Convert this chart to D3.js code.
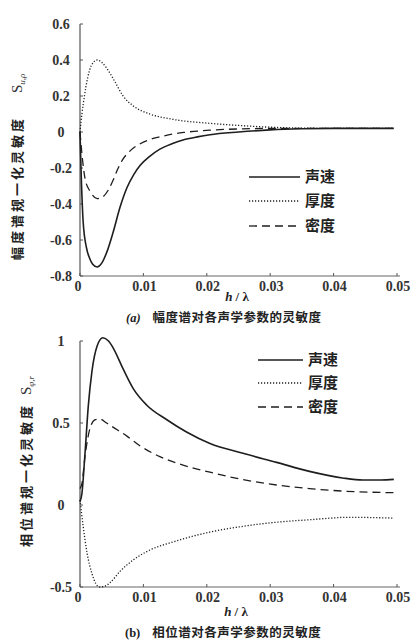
<!DOCTYPE html>
<html><head><meta charset="utf-8">
<script src="https://cdn.jsdelivr.net/npm/d3@7"></script>
<style>
html,body{margin:0;padding:0;background:#fff;}
svg{display:block;}
</style></head>
<body>
<svg id="c" width="419" height="643"></svg>
<script>
// ---------- data ----------
const seriesNames = ["声速", "厚度", "密度"];
const xTicks = [0, 0.01, 0.02, 0.03, 0.04, 0.05];
const xTickLabels = ["0", "0.01", "0.02", "0.03", "0.04", "0.05"];
const yTicksA = [-0.8, -0.6, -0.4, -0.2, 0, 0.2, 0.4, 0.6];
const yTickLabelsA = ["-0.8", "-0.6", "-0.4", "-0.2", "0", "0.2", "0.4", "0.6"];
const yTicksB = [-0.5, 0, 0.5, 1];
const yTickLabelsB = ["-0.5", "0", "0.5", "1"];

// (a) amplitude spectrum sensitivity
const ampSpeed = [[0,0],[0.0002,-0.25],[0.0005,-0.5],[0.001,-0.64],[0.0015,-0.70],[0.002,-0.735],[0.0027,-0.75],[0.0034,-0.73],[0.0042,-0.67],[0.0052,-0.56],[0.0063,-0.42],[0.0074,-0.31],[0.0085,-0.235],[0.0095,-0.185],[0.011,-0.135],[0.0126,-0.095],[0.0145,-0.065],[0.0165,-0.042],[0.0185,-0.027],[0.0205,-0.015],[0.025,0.0],[0.03,0.012],[0.035,0.018],[0.04,0.02],[0.045,0.02],[0.0495,0.02]];
const ampThick = [[0,0],[0.0003,0.1],[0.0007,0.2],[0.0012,0.3],[0.0018,0.37],[0.0027,0.40],[0.0035,0.385],[0.0042,0.355],[0.0055,0.28],[0.0068,0.2],[0.0084,0.145],[0.011,0.1],[0.0147,0.07],[0.0205,0.048],[0.0257,0.035],[0.031,0.025],[0.036,0.021],[0.042,0.02],[0.0495,0.02]];
const ampDens = [[0,0],[0.0003,-0.12],[0.0008,-0.26],[0.0016,-0.33],[0.0027,-0.37],[0.0036,-0.36],[0.0045,-0.32],[0.0052,-0.27],[0.0059,-0.21],[0.0067,-0.155],[0.0079,-0.105],[0.0095,-0.065],[0.011,-0.042],[0.0126,-0.027],[0.0145,-0.012],[0.0165,-0.002],[0.0205,0.01],[0.025,0.017],[0.03,0.02],[0.0495,0.02]];

// (b) phase spectrum sensitivity
const phaSpeed = [[0,0.02],[0.0003,0.07],[0.0008,0.32],[0.0013,0.6],[0.0019,0.82],[0.0027,0.97],[0.0036,1.02],[0.0045,1.0],[0.0052,0.96],[0.0068,0.83],[0.0084,0.71],[0.0105,0.61],[0.0137,0.52],[0.0168,0.445],[0.0205,0.375],[0.0257,0.315],[0.031,0.26],[0.0362,0.205],[0.0414,0.165],[0.0446,0.152],[0.0475,0.152],[0.0495,0.156]];
const phaThick = [[0,0.03],[0.0005,-0.13],[0.0011,-0.29],[0.0019,-0.42],[0.0025,-0.48],[0.0031,-0.5],[0.0039,-0.495],[0.0047,-0.475],[0.0063,-0.405],[0.0084,-0.335],[0.011,-0.275],[0.0147,-0.225],[0.0205,-0.165],[0.0257,-0.13],[0.031,-0.105],[0.0362,-0.09],[0.0425,-0.075],[0.0495,-0.08]];
const phaDens = [[0,0.1],[0.0003,0.13],[0.0008,0.3],[0.0016,0.47],[0.0024,0.52],[0.0031,0.525],[0.0042,0.5],[0.0052,0.475],[0.0074,0.42],[0.0095,0.36],[0.0126,0.295],[0.0157,0.25],[0.0205,0.2],[0.0257,0.155],[0.031,0.122],[0.0362,0.1],[0.0414,0.085],[0.0495,0.075]];

const dashStyles = [null, "1.2,1.8", "8,5"];
const INK = "#1e1e1e";

const svg = d3.select("#c");

function panel(cfg) {
  const x = d3.scaleLinear().domain([0, 0.05]).range([80, 397]);
  const y = d3.scaleLinear().domain(cfg.yDomain).range(cfg.yRange);
  const g = svg.append("g");

  // axes lines
  g.append("line").attr("x1", x(0)).attr("x2", x(0)).attr("y1", y(cfg.yDomain[0])).attr("y2", y(cfg.yDomain[1]))
    .attr("stroke", "#555").attr("stroke-width", 1.2);
  g.append("line").attr("x1", x(0)).attr("x2", 400).attr("y1", y(cfg.yDomain[0])).attr("y2", y(cfg.yDomain[0]))
    .attr("stroke", "#666").attr("stroke-width", 1.2);

  // x ticks
  xTicks.forEach((t, i) => {
    g.append("line").attr("x1", x(t)).attr("x2", x(t)).attr("y1", y(cfg.yDomain[0])).attr("y2", y(cfg.yDomain[0]) - 3)
      .attr("stroke", "#555");
    g.append("text").attr("x", i === 0 ? x(t) - 2 : x(t) + 1).attr("y", y(cfg.yDomain[0]) + 15)
      .attr("text-anchor", "middle").attr("font-family", "Liberation Serif").attr("font-size", 14)
      .attr("font-weight", "bold").attr("fill", "#333").text(xTickLabels[i]);
  });
  // y ticks
  cfg.yTicks.forEach((t, i) => {
    g.append("line").attr("x1", x(0)).attr("x2", x(0) + 3).attr("y1", y(t)).attr("y2", y(t)).attr("stroke", "#555");
    g.append("text").attr("x", 61).attr("y", y(t) + 5)
      .attr("text-anchor", "middle").attr("font-family", "Liberation Serif").attr("font-size", 14)
      .attr("font-weight", "bold").attr("fill", "#333").text(cfg.yTickLabels[i]);
  });

  // curves
  const line = d3.line().x(d => x(d[0])).y(d => y(d[1])).curve(d3.curveMonotoneX);
  cfg.series.forEach((s, i) => {
    const p = g.append("path").datum(s).attr("d", line).attr("fill", "none")
      .attr("stroke", INK).attr("stroke-width", i === 0 ? 1.6 : 1.3);
    if (dashStyles[i]) p.attr("stroke-dasharray", dashStyles[i]);
  });

  // legend
  seriesNames.forEach((n, i) => {
    const ly = cfg.legendY[i];
    const l = g.append("line").attr("x1", cfg.legendX[0]).attr("x2", cfg.legendX[1]).attr("y1", ly).attr("y2", ly)
      .attr("stroke", INK).attr("stroke-width", i === 0 ? 1.5 : 1.3);
    if (dashStyles[i]) l.attr("stroke-dasharray", dashStyles[i]);
    g.append("text").attr("x", cfg.legendX[1] + 5).attr("y", ly + 5).attr("font-family", "Noto Sans CJK SC")
      .attr("font-size", 15).attr("font-weight", "bold").attr("fill", "#222").text(n);
  });

  // y label
  const yl = g.append("g").attr("transform", `translate(${cfg.yLabelX},${cfg.yLabelY}) rotate(-90)`);
  yl.append("text").attr("text-anchor", "middle").attr("font-family", "Noto Sans CJK SC")
    .attr("font-size", 13).attr("font-weight", "bold").attr("letter-spacing", 3).attr("fill", "#222")
    .attr("dy", 5).text(cfg.yLabel);
  const sl = g.append("g").attr("transform", `translate(${cfg.yLabelX},${cfg.sY}) rotate(-90)`);
  const st = sl.append("text").attr("font-family", "Liberation Serif").attr("font-size", 15).attr("fill", "#333").attr("dy", 5);
  st.append("tspan").text("S");
  st.append("tspan").attr("font-size", 9).attr("dy", 3).attr("font-style", "italic").text(cfg.sub);

  // x label
  const xl = g.append("text").attr("x", cfg.xLabelX).attr("y", cfg.xLabelY).attr("text-anchor", "middle")
    .attr("font-family", "Liberation Serif").attr("font-size", 13).attr("font-weight", "bold").attr("fill", "#222");
  xl.append("tspan").attr("font-style", "italic").text("h");
  xl.append("tspan").text(" / λ");

  // caption
  const cap = g.append("text").attr("x", cfg.capX).attr("y", cfg.capY).attr("font-size", 12.5).attr("fill", "#222");
  cap.append("tspan").attr("font-family", "Liberation Serif").attr("font-style", cfg.capItalic ? "italic" : "normal")
    .attr("font-weight", "bold").text(cfg.capTag);
  cap.append("tspan").attr("dx", 12).attr("font-family", "Noto Sans CJK SC").attr("font-weight", "bold")
    .attr("letter-spacing", 0.5).text(cfg.capText);
}

panel({
  yDomain: [-0.8, 0.6], yRange: [276, 24], yTicks: yTicksA, yTickLabels: yTickLabelsA,
  series: [ampSpeed, ampThick, ampDens],
  legendX: [249, 300], legendY: [177, 201, 226],
  yLabel: "幅度谱规一化灵敏度", yLabelX: 17, yLabelY: 188, sY: 93, sub: "u,ρ",
  xLabelX: 237, xLabelY: 301,
  capX: 126, capY: 322, capTag: "(a)", capItalic: true, capText: "幅度谱对各声学参数的灵敏度"
});
panel({
  yDomain: [-0.5, 1], yRange: [587, 341], yTicks: yTicksB, yTickLabels: yTickLabelsB,
  series: [phaSpeed, phaThick, phaDens],
  legendX: [258, 303], legendY: [360, 383, 407],
  yLabel: "相位谱规一化灵敏度", yLabelX: 26, yLabelY: 475, sY: 395, sub: "φ,r",
  xLabelX: 236, xLabelY: 616,
  capX: 125, capY: 637, capTag: "(b)", capItalic: false, capText: "相位谱对各声学参数的灵敏度"
});
</script>
</body></html>
